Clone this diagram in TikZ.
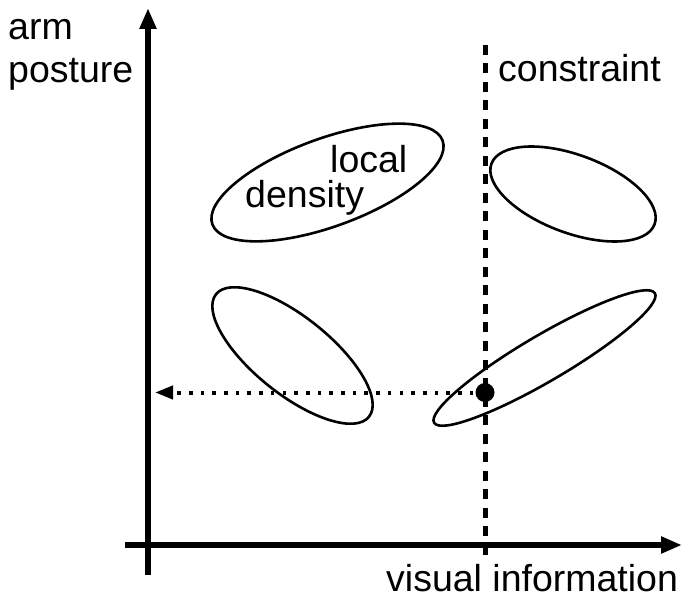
\documentclass[tikz,border=0pt]{standalone}
\usepackage{fontspec}
\setmainfont{Liberation Sans}
\usetikzlibrary{arrows.meta,shapes.geometric}
\begin{document}
\begin{tikzpicture}[x=1pt,y=1pt,
  axis/.style={line width=5.5pt,-{Triangle[length=21pt,width=16pt]}},
  blob/.style={draw,ellipse,line width=2.6pt,inner sep=0pt},
  lbl/.style={anchor=base west,inner sep=0pt,font=\fontsize{37.5}{43}\selectfont},
  cline/.style={line width=5pt,dash pattern=on 10pt off 8.5pt},
  proj/.style={line width=4pt,dash pattern=on 3.6pt off 8.1pt,-{Triangle[length=18pt,width=13pt]}}]
\useasboundingbox (0,0) rectangle (683,598);
% axes
\coordinate (ybot) at (148,23);
\coordinate (ytop) at (148,590);
\coordinate (xl) at (125,53);
\coordinate (xr) at (682,53);
\draw[axis] (ybot) -- (ytop);
\draw[axis] (xl) -- (xr);
% ellipses
\node[blob,rotate=20,minimum width=245pt,minimum height=88pt] (e1) at (327.5,415.5) {};
\node[blob,rotate=-20.4,minimum width=174pt,minimum height=78pt] (e2) at (573,404) {};
\node[blob,rotate=-38.7,minimum width=196pt,minimum height=77pt] (e3) at (292.5,242.5) {};
\node[blob,rotate=30.4,minimum width=256pt,minimum height=46pt] (e4) at (544.5,240) {};
% constraint line
\coordinate (ctop) at (485,553);
\coordinate (cbot) at (485,38);
\draw[cline] (ctop) -- (cbot);
% point and projection
\node[circle,fill=black,inner sep=0pt,minimum size=19pt] (pt) at (485,205.5) {};
\coordinate (ptip) at (155,205.5);
\draw[proj] (pt.center) -- (ptip);
% labels
\node[lbl] (arm) at (8,558) {arm};
\node[lbl] (posture) at (8,515) {posture};
\node[lbl] (constraint) at (498,516) {constraint};
\node[lbl] (local) at (330,425) {local};
\node[lbl] (density) at (245,390) {density};
\node[lbl] (visual) at (386,7) {visual information};
\end{tikzpicture}
\end{document}
